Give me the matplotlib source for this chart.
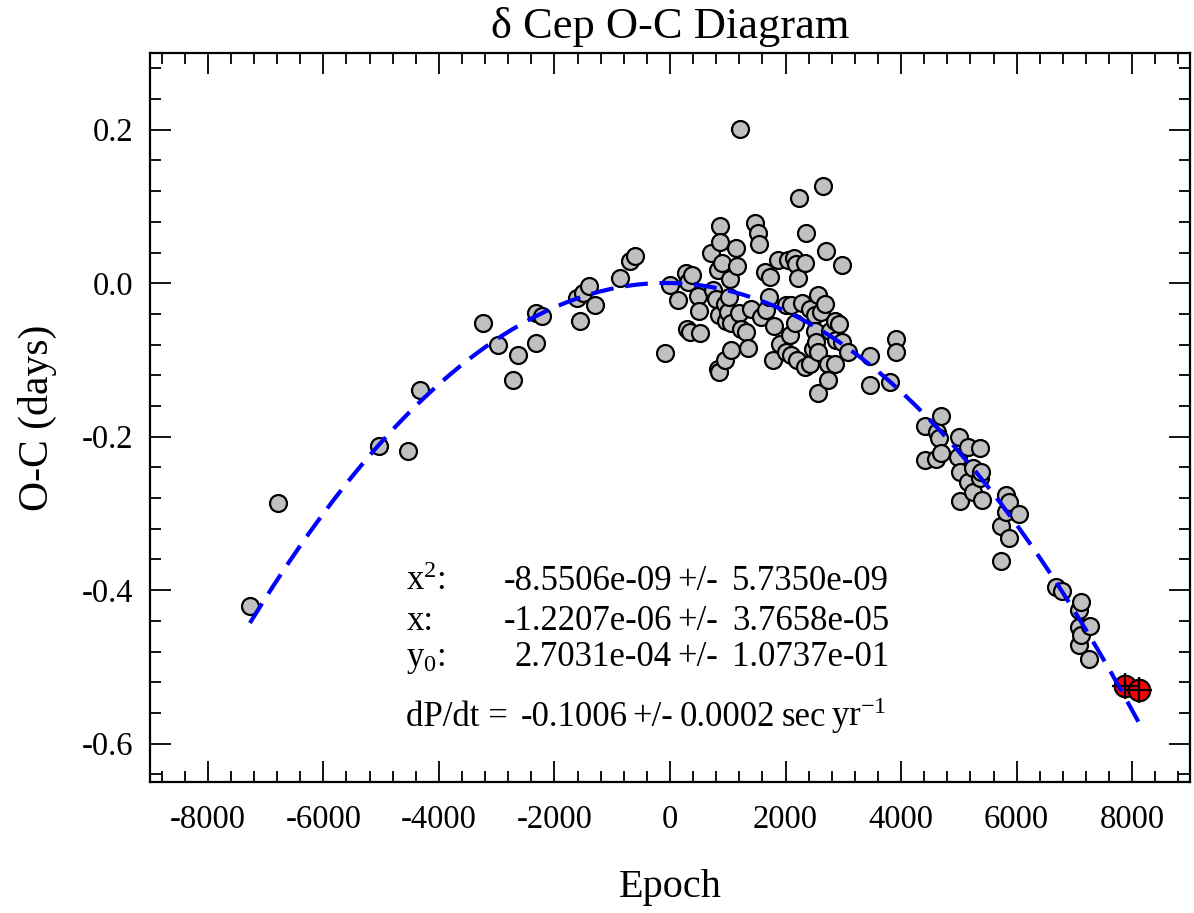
import matplotlib
matplotlib.use("Agg")
import matplotlib.pyplot as plt
import numpy as np
from matplotlib.ticker import MultipleLocator

plt.rcParams["font.family"] = ["Liberation Serif", "DejaVu Serif"]
plt.rcParams["mathtext.fontset"] = "custom"
plt.rcParams["mathtext.rm"] = "Liberation Serif"
plt.rcParams["mathtext.it"] = "Liberation Serif:italic"

# observed O-C timings (epoch, days)
epoch = [
    -7270, -6780, -5036, -4541, -4321, -3229, -2980, -2711, -2634, -2324,
    -2312, -2217, -1609, -1561, -1502, -1400, -1300, -863, -685, -614,
    -90, 0, 130, 270, 312, 388, 294, 341, 526, 485,
    500, 716, 745, 800, 831, 831, 849, 855, 860, 872,
    895, 946, 946, 976, 1004, 1021, 1033, 1062, 1062, 1143,
    1160, 1194, 1206, 1235, 1322, 1350, 1396, 1466, 1523, 1540,
    1581, 1639, 1656, 1705, 1725, 1783, 1806, 1869, 1898, 2002,
    2014, 2042, 2071, 2100, 2100, 2146, 2158, 2187, 2198, 2215,
    2227, 2291, 2331, 2331, 2360, 2418, 2429, 2475, 2504, 2504,
    2533, 2561, 2561, 2561, 2620, 2642, 2689, 2706, 2734, 2734,
    2763, 2850, 2850, 2867, 2925, 2976, 2976, 3080, 3456, 3456,
    3802, 3918, 3918, 4407, 4407, 4610, 4620, 4655, 4696, 4696,
    4984, 5001, 5013, 5013, 5157, 5157, 5243, 5243, 5359, 5359,
    5388, 5399, 5735, 5735, 5821, 5821, 5866, 5866, 6039, 6686,
    6790, 7077, 7077, 7077, 7119, 7119, 7250, 7262,
]
oc = [
    -0.421, -0.286, -0.2125, -0.219, -0.139, -0.052, -0.081, -0.126, -0.093, -0.078,
    -0.039, -0.043, -0.019, -0.0495, -0.0125, -0.004, -0.029, 0.0065, 0.0287, 0.036,
    -0.0905, -0.002, -0.022, 0.013, 0.0013, 0.011, -0.0595, -0.064, -0.065, -0.017,
    -0.0356, 0.0396, -0.0086, -0.0205, 0.0166, -0.1117, -0.042, -0.116, 0.074, 0.0535,
    0.026, -0.027, -0.0995, -0.0487, -0.0378, -0.018, 0.0057, -0.052, -0.0865, 0.0456,
    0.0218, -0.039, 0.2004, -0.0595, -0.064, -0.084, -0.0334, 0.0787, 0.0657, 0.0514,
    -0.0443, 0.0143, -0.0347, -0.018, 0.0078, -0.0995, -0.0555, 0.0296, -0.079, -0.0278,
    -0.09, 0.0305, -0.0673, -0.0278, -0.094, 0.0326, -0.052, 0.0253, -0.0995, 0.0065,
    0.111, -0.026, 0.026, -0.1095, 0.0657, -0.0334, -0.105, -0.0855, -0.042, -0.0617,
    -0.077, -0.016, -0.09, -0.143, -0.037, 0.1265, -0.027, 0.0426, -0.105, -0.126,
    -0.0617, -0.0487, -0.105, -0.0738, -0.053, 0.024, -0.077, -0.09, -0.0943, -0.132,
    -0.129, -0.0725, -0.09, -0.1864, -0.2303, -0.229, -0.194, -0.2016, -0.1725, -0.2216,
    -0.226, -0.2008, -0.2464, -0.2833, -0.213, -0.2594, -0.2407, -0.2725, -0.215, -0.2542,
    -0.2464, -0.282, -0.3168, -0.3615, -0.276, -0.2986, -0.2855, -0.332, -0.3007, -0.3963,
    -0.4007, -0.426, -0.4485, -0.471, -0.416, -0.458, -0.4897, -0.447,
]

# new timings (red)
new_epoch = [7880, 8110]
new_oc = [-0.5245, -0.530]

# quadratic fit coefficients printed on the chart
fit_a = -8.5506e-09
fit_b = -1.2207e-06
fit_c = 2.7031e-04
fit_range = [-7270, 8130]

fit_lines = [
    ("$\\mathregular{x^2}$:", "-8.5506e-09", "5.7350e-09"),
    ("x:", "-1.2207e-06", "3.7658e-05"),
    ("$\\mathregular{y_0}$:", "2.7031e-04", "1.0737e-01"),
]

fig = plt.figure(figsize=(11.94, 9.13), dpi=100)
ax = fig.add_axes([150 / 1194, 1 - 782 / 913, 1040 / 1194, 729 / 913])

xx = np.linspace(fit_range[0], fit_range[1], 300)
yy = fit_a * xx**2 + fit_b * xx + fit_c

ax.plot(epoch, oc, "o", ms=12.2, mfc="#c0c0c0", mec="black", mew=1.6, zorder=2)
ax.plot(new_epoch, new_oc, "o", ms=15.5, mfc="red", mec="black", mew=1.6, zorder=3)
ax.plot(new_epoch, new_oc, "+", ms=19, mec="black", mew=1.6, zorder=4)
ax.plot(xx, yy, color="blue", lw=3, linestyle=(0, (5.5, 2.8)), zorder=5)

ax.set_xlim(-9000, 9000)
ax.set_ylim(-0.65, 0.3)
ax.xaxis.set_major_locator(MultipleLocator(2000))
ax.xaxis.set_minor_locator(MultipleLocator(400))
ax.yaxis.set_major_locator(MultipleLocator(0.2))
ax.yaxis.set_minor_locator(MultipleLocator(0.04))
ax.tick_params(which="both", direction="in", top=True, right=True, width=1.3)
ax.tick_params(which="major", length=15, labelsize=23.5)
ax.tick_params(which="minor", length=8)
ax.tick_params(axis="x", pad=16)
ax.tick_params(axis="y", pad=12)
for s in ax.spines.values():
    s.set_linewidth(1.6)

# plain hyphens for minus signs, like the original
ax.xaxis.set_major_formatter(plt.FuncFormatter(lambda v, p: "%d" % v))
ax.yaxis.set_major_formatter(plt.FuncFormatter(lambda v, p: "%.1f" % v))

ax.set_title("δ Cep O-C Diagram", fontsize=32, pad=11)
ax.set_xlabel("Epoch", fontsize=29, labelpad=25)
ax.set_ylabel("O-C (days)", fontsize=30, labelpad=18)

tfs = 25
for i, (lab, val, err) in enumerate(fit_lines):
    yb = [0.2634, 0.2085, 0.159][i]
    ax.text(0.2466, yb, lab, transform=ax.transAxes, fontsize=tfs, va="baseline", ha="left")
    ax.text(0.5019, yb, val, transform=ax.transAxes, fontsize=tfs, va="baseline", ha="right")
    ax.text(0.5265, yb, "+/-", transform=ax.transAxes, fontsize=tfs, va="baseline", ha="center")
    ax.text(0.7106, yb, err, transform=ax.transAxes, fontsize=tfs, va="baseline", ha="right")

yb = 0.0768
ax.text(0.2466, yb, "dP/dt =", transform=ax.transAxes, fontsize=tfs, va="baseline", ha="left")
ax.text(0.3567, yb, "-0.1006", transform=ax.transAxes, fontsize=tfs, va="baseline", ha="left")
ax.text(0.4635, yb, "+/-", transform=ax.transAxes, fontsize=tfs, va="baseline", ha="left")
ax.text(0.5095, yb, "0.0002", transform=ax.transAxes, fontsize=tfs, va="baseline", ha="left")
ax.text(0.6075, yb, "sec", transform=ax.transAxes, fontsize=tfs, va="baseline", ha="left")
ax.text(0.6545, yb, "yr$^{\\mathregular{-1}}$", transform=ax.transAxes, fontsize=tfs, va="baseline", ha="left")

fig.savefig("out.png", dpi=100)
